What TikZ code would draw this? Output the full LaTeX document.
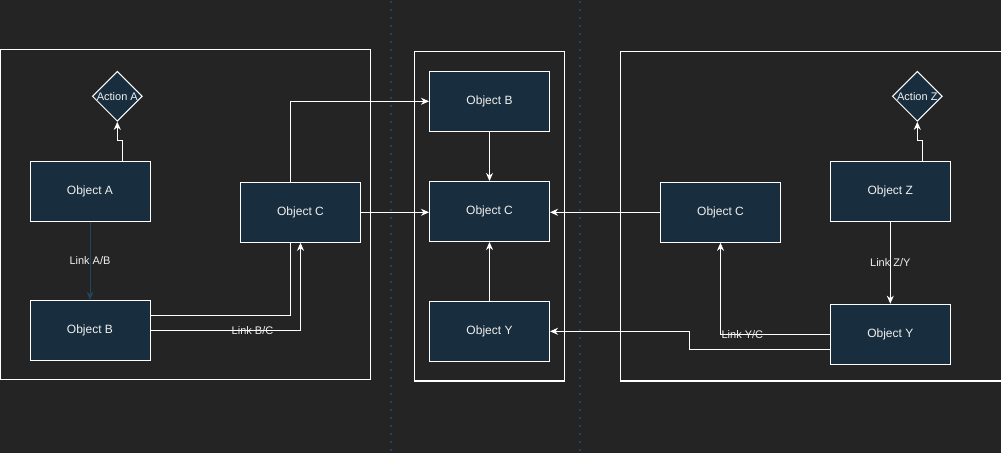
\documentclass[tikz,border=0pt]{standalone}
\usepackage{fontspec}
\setmainfont{Liberation Sans}
\usetikzlibrary{shapes.geometric,arrows.meta,positioning}
\definecolor{bg}{HTML}{242424}
\definecolor{nodefill}{HTML}{182E3E}
\definecolor{linkblue}{HTML}{23445D}
\definecolor{txt}{HTML}{F0F0F0}
\definecolor{dotc}{HTML}{1F4464}
\pgfdeclarelayer{bglayer}
\pgfdeclarelayer{edgelayer}
\pgfsetlayers{bglayer,edgelayer,main}
\tikzset{
  obj/.style={draw=white, fill=nodefill, line width=1pt, minimum width=120pt, minimum height=60pt, inner sep=0pt, text=txt, font=\fontsize{12pt}{14pt}\selectfont},
  act/.style={draw=white, fill=nodefill, line width=1pt, shape=diamond, aspect=1, minimum width=50pt, minimum height=50pt, inner sep=0pt},
  acttext/.style={text=txt, font=\fontsize{11pt}{13pt}\selectfont, inner sep=0pt},
  cont/.style={draw=white, line width=1pt},
  arr/.style={draw=white, line width=1pt, -{Stealth[length=8pt,width=7pt,inset=2.5pt]}},
  arrblue/.style={draw=linkblue, line width=1pt, -{Stealth[length=8pt,width=7pt,inset=2.5pt]}},
  lbl/.style={text=txt, font=\fontsize{11pt}{13pt}\selectfont, inner sep=0pt},
  dotline/.style={draw=dotc, line width=1.6pt, dash pattern=on 1.6pt off 6.4pt}
}
\begin{document}
\begin{tikzpicture}[x=1pt, y=-1pt]
\begin{pgfonlayer}{bglayer}
\fill[bg] (0,0) rectangle (1001,453);
\draw[dotline] (390.7,1) -- (390.7,453);
\draw[dotline] (580,1) -- (580,453);
\end{pgfonlayer}
\useasboundingbox (0,0) rectangle (1001,453);
\clip (0,0) rectangle (1001,453);
% containers
\draw[cont] (0.5,49.3) rectangle (370,379.3);
\draw[cont] (414.3,51.7) rectangle (564.3,381);
\draw[cont] (620.3,51.3) rectangle (1010,381);
% left group
\node[obj] (oA) at (90,191.3) {Object A};
\node[obj] (oBL) at (90,330.3) {Object B};
\node[obj] (oCL) at (300.5,212.3) {Object C};
\node[act, label={[acttext]center:Action A}] (aA) at (117.3,96.3) {};
% middle group
\node[obj] (mB) at (489.5,101.3) {Object B};
\node[obj] (mC) at (489.5,211.5) {Object C};
\node[obj] (mY) at (489.5,331.3) {Object Y};
% right group
\node[obj] (rC) at (720.5,212.3) {Object C};
\node[obj] (oZ) at (890.3,191.3) {Object Z};
\node[obj] (rY) at (890.3,334.2) {Object Y};
\node[act, label={[acttext]center:Action Z}] (aZ) at (917.3,96.3) {};
% edge passing behind Object C
\begin{pgfonlayer}{edgelayer}
\draw[arr] ([yshift=15pt]oBL.east) -| (290,101.3) -- (mB.west);
\end{pgfonlayer}
\draw[arr] ([xshift=32.5pt]oA.north) -- ++(0,-20) -| (aA.south);
\draw[arrblue] (oA) -- node[lbl]{Link A/B} (oBL);
\draw[arr] (oBL.east) -| node[lbl, pos=0.34]{Link B/C} (oCL.south);
\draw[arr] (oCL.east) -- (oCL.east -| mC.west);
\draw[arr] (mB) -- (mC);
\draw[arr] (mY) -- (mC);
\draw[arr] (rC.west) -- (rC.west -| mC.east);
\draw[arr] ([yshift=-15pt]rY.west) -| (689.7,331.3) -- (mY.east);
\draw[arr] (rY.west) -| node[lbl, pos=0.4]{Link Y/C} (rC.south);
\draw[arr] (oZ) -- node[lbl]{Link Z/Y} (rY);
\draw[arr] ([xshift=32pt]oZ.north) -- ++(0,-20) -| (aZ.south);
\end{tikzpicture}
\end{document}
